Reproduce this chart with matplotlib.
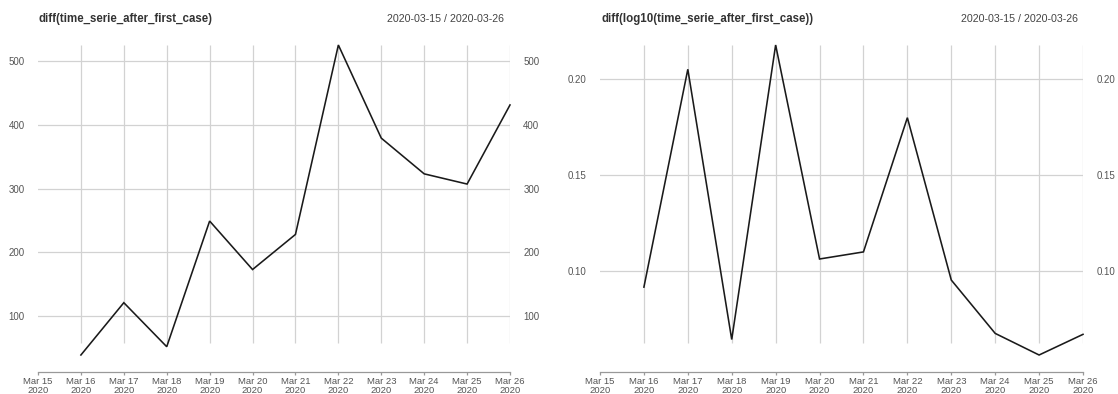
import matplotlib
matplotlib.use("Agg")
import matplotlib.pyplot as plt
import matplotlib.dates as mdates
import numpy as np

plt.rcParams["font.family"] = ["Liberation Sans", "DejaVu Sans"]

# ---- data ----
dates = np.array(["2020-03-16", "2020-03-17", "2020-03-18", "2020-03-19", "2020-03-20",
                  "2020-03-21", "2020-03-22", "2020-03-23", "2020-03-24", "2020-03-25",
                  "2020-03-26"], dtype="datetime64[D]")
x_start = np.datetime64("2020-03-15")
x_end = np.datetime64("2020-03-26")
diff_values = [39, 121, 52, 249, 173, 228, 525, 379, 323, 307, 431]
diff_log_values = [0.0914, 0.2053, 0.0640, 0.2180, 0.1061, 0.1098, 0.1800, 0.0951,
                   0.0672, 0.0559, 0.0667]
left_yticks = [100, 200, 300, 400, 500]
right_yticks = [0.10, 0.15, 0.20]
titles = ["diff(time_serie_after_first_case)", "diff(log10(time_serie_after_first_case))"]
range_label = "2020-03-15 / 2020-03-26"

W, H = 1118, 394
fig = plt.figure(figsize=(W / 100, H / 100), dpi=100)

GRID = "#d2d2d2"
TXT = "#555555"


def make_panel(px0, px1, values, yticks, fmt, title, title_x, range_x):
    top, bot = 45, 355
    ax = fig.add_axes([px0 / W, (H - bot) / H, (px1 - px0) / W, (bot - top) / H])
    xd = dates.astype("datetime64[ms]").astype(object)
    ax.plot(xd, values, color="#1a1a1a", lw=1.15,
            solid_joinstyle="miter", clip_on=False, zorder=3)
    ax.set_xlim(x_start.astype(object), x_end.astype(object))
    ax.set_ylim(min(values), max(values))
    # grid
    for y in yticks:
        ax.axhline(y, color=GRID, lw=0.9, zorder=1)
    ax.vlines(xd, 0.039, 1.0, transform=ax.get_xaxis_transform(),
              color=GRID, lw=0.9, zorder=1)
    # spines
    for s in ["top", "left", "right"]:
        ax.spines[s].set_visible(False)
    ax.spines["bottom"].set_position(("outward", 12.0))
    ax.spines["bottom"].set_color("#999999")
    ax.spines["bottom"].set_linewidth(0.9)
    ax.xaxis.set_major_locator(mdates.DayLocator())
    ax.xaxis.set_major_formatter(mdates.DateFormatter("%b %d\n%Y"))
    ax.tick_params(axis="x", colors="#999999", length=2.5, width=0.9, pad=1.0,
                   labelsize=6.8, labelcolor=TXT)
    ax.set_yticks(yticks)
    ax.yaxis.set_major_formatter(plt.FuncFormatter(lambda v, p: fmt.format(v)))
    ax.tick_params(axis="y", length=0, pad=9.5, labelsize=7.0, labelcolor=TXT,
                   labelleft=True, labelright=True)
    for lab in ax.get_xticklabels():
        lab.set_linespacing(1.0)
    ax.set_facecolor("none")
    fig.text(title_x / W, 1 - 19 / H, title, fontsize=8.3, fontweight="bold",
             color="#333333", ha="left", va="center")
    fig.text(range_x / W, 1 - 19 / H, range_label, fontsize=7.7, color="#444444",
             ha="right", va="center")
    return ax


make_panel(38, 510, diff_values, left_yticks, "{:.0f}", titles[0], 38.5, 504)
make_panel(600, 1083, diff_log_values, right_yticks, "{:.2f}", titles[1], 601, 1078)

fig.savefig("out.png", dpi=100, facecolor="white")
